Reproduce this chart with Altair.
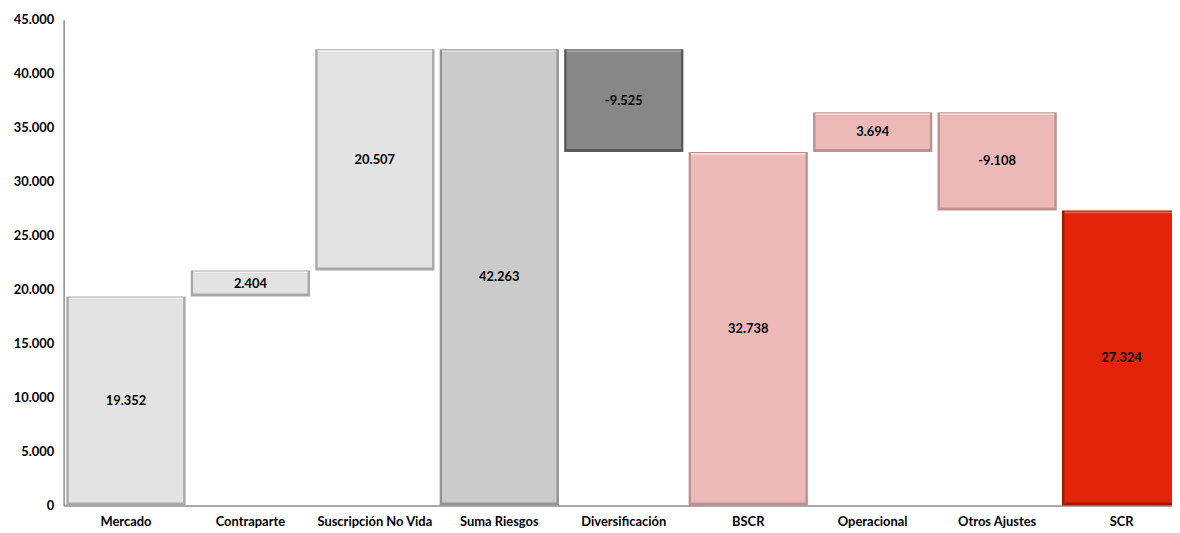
import altair as alt
import pandas as pd

categories = ["Mercado", "Contraparte", "Suscripción No Vida", "Suma Riesgos",
              "Diversificación", "BSCR", "Operacional", "Otros Ajustes", "SCR"]
starts = [0, 19352, 21756, 0, 42263, 0, 32738, 36432, 0]
ends = [19352, 21756, 42263, 42263, 32738, 32738, 36432, 27324, 27324]
labels = ["19.352", "2.404", "20.507", "42.263", "-9.525", "32.738", "3.694", "-9.108", "27.324"]
fills = ["#e3e3e3", "#e3e3e3", "#e3e3e3", "#cbcbcb", "#878787",
         "#edb9b8", "#edb9b8", "#edb9b8", "#e4230b"]
edges = ["#a8a8a8", "#a8a8a8", "#a8a8a8", "#939393", "#5a5a5a",
         "#bb9291", "#bb9291", "#bb9291", "#a31805"]
highs = ["#f4f4f4", "#f4f4f4", "#f4f4f4", "#e2e2e2", "#a9a9a9",
         "#f8d8d7", "#f8d8d7", "#f8d8d7", "#f25a44"]

df = pd.DataFrame({
    "cat": categories,
    "top": [max(a, b) for a, b in zip(starts, ends)],
    "bot": [min(a, b) for a, b in zip(starts, ends)],
    "label": labels,
    "fill": fills,
    "edge": edges,
    "high": highs,
})
df["mid"] = (df["top"] + df["bot"]) / 2

FONT = "Lato"

x = alt.X("cat:N", sort=categories, title=None,
          scale=alt.Scale(paddingInner=0.042, paddingOuter=0.0215, range=[0, 1128]),
          axis=alt.Axis(labelAngle=0, labelFont=FONT, labelFontWeight="bold",
                        labelFontSize=13, labelColor="#000000", ticks=False,
                        labelPadding=10, domainColor="#8c8c8c", domainWidth=1.5))
yscale = alt.Scale(domain=[0, 45000], nice=False)

base = alt.Chart(df)

outer = base.mark_bar().encode(
    x=x,
    y=alt.Y("top:Q", scale=yscale, title=None,
            axis=alt.Axis(values=list(range(0, 45001, 5000)), grid=False, ticks=False,
                          labelFont=FONT, labelFontWeight="bold", labelFontSize=13,
                          labelColor="#000000", labelPadding=10,
                          domainColor="#8c8c8c", domainWidth=1.5,
                          labelExpr="datum.value == 0 ? '0' : replace(format(datum.value, ','), ',', '.')")),
    y2="bot:Q",
    color=alt.Color("edge:N", scale=None),
)

inner = base.mark_bar(width={"band": 0.96}, yOffset=3, y2Offset=-3).encode(
    x=x, y="top:Q", y2="bot:Q",
    color=alt.Color("fill:N", scale=None),
)

highlight = base.mark_bar(width={"band": 0.96}, yOffset=1, y2Offset=3).encode(
    x=x, y="top:Q", y2="top:Q",
    color=alt.Color("high:N", scale=None),
)

text = base.mark_text(font=FONT, fontWeight="bold", fontSize=13, color="#000000",
                      baseline="middle").encode(
    x=x, y="mid:Q", text="label:N",
)

chart = alt.layer(outer, inner, highlight, text).properties(
    width=1116, height=489,
    autosize=alt.AutoSizeParams(type="none"),
    padding={"left": 56, "top": 10, "right": 0, "bottom": 26},
).configure_view(stroke=None)

chart.save("out.html", embed_options={"renderer": "svg", "actions": False})
